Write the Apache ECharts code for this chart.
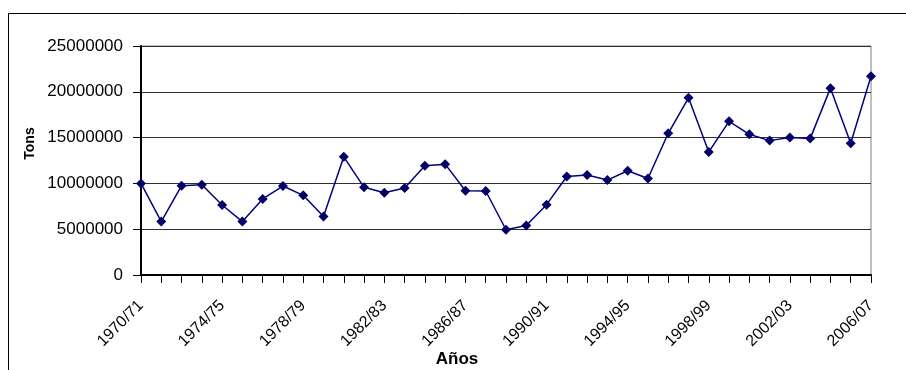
<!DOCTYPE html>
<html>
<head>
<meta charset="utf-8">
<script src="https://cdn.jsdelivr.net/npm/echarts@6/dist/echarts.min.js"></script>
<style>
html,body{margin:0;padding:0;background:#fff;}
#chart{width:906px;height:370px;}
</style>
</head>
<body>
<div id="chart"></div>
<script>
var categories = ["1970/71","1971/72","1972/73","1973/74","1974/75","1975/76","1976/77","1977/78","1978/79","1979/80",
  "1980/81","1981/82","1982/83","1983/84","1984/85","1985/86","1986/87","1987/88","1988/89","1989/90",
  "1990/91","1991/92","1992/93","1993/94","1994/95","1995/96","1996/97","1997/98","1998/99","1999/00",
  "2000/01","2001/02","2002/03","2003/04","2004/05","2005/06","2006/07"];
var tons = [10000000, 5830000, 9750000, 9860000, 7640000, 5830000, 8300000, 9710000, 8700000, 6380000,
  12900000, 9570000, 8990000, 9490000, 11920000, 12100000, 9200000, 9170000, 4940000, 5400000,
  7680000, 10760000, 10910000, 10360000, 11380000, 10540000, 15470000, 19350000, 13440000, 16780000,
  15360000, 14670000, 15000000, 14890000, 20400000, 14380000, 21700000];
var yTicks = [0, 5000000, 10000000, 15000000, 20000000, 25000000];

var chart = echarts.init(document.getElementById('chart'), null, {renderer: 'canvas'});
var font = '"Liberation Sans", Arial, sans-serif';
chart.setOption({
  animation: false,
  backgroundColor: '#fff',
  graphic: [{
    type: 'rect', silent: true,
    shape: {x: 8.5, y: 13.5, width: 1000, height: 500},
    style: {fill: 'none', stroke: '#000', lineWidth: 1}
  }],
  grid: {left: 141, right: 35, top: 46, bottom: 95, show: true, borderColor: '#808080', borderWidth: 1,
         containLabel: false, outerBoundsMode: 'none'},
  xAxis: {
    type: 'category',
    data: categories,
    boundaryGap: false,
    name: 'Años',
    nameLocation: 'middle',
    nameMoveOverlap: false,
    nameGap: 76,
    nameTextStyle: {fontFamily: font, fontSize: 17, fontWeight: 'bold', color: '#000', padding: [0, 0, 0, -98]},
    axisLine: {lineStyle: {color: '#000', width: 2}},
    axisTick: {show: true, interval: 0, length: 8, lineStyle: {color: '#000', width: 1}},
    axisLabel: {interval: 3, rotate: 45, margin: 28, fontFamily: font, fontSize: 16, color: '#000'},
    splitLine: {show: false}
  },
  yAxis: {
    type: 'value',
    min: yTicks[0],
    max: yTicks[yTicks.length - 1],
    interval: yTicks[1] - yTicks[0],
    name: 'Tons',
    nameLocation: 'middle',
    nameMoveOverlap: false,
    nameGap: 104,
    nameTextStyle: {fontFamily: font, fontSize: 14, fontWeight: 'bold', color: '#000', padding: [0, 0, 0, 34]},
    axisLine: {show: true, lineStyle: {color: '#000', width: 2}},
    axisTick: {show: true, length: 8, lineStyle: {color: '#000', width: 1}},
    axisLabel: {margin: 18, fontFamily: font, fontSize: 17, color: '#000',
                formatter: function (v) { return String(v); }},
    splitLine: {show: true, lineStyle: {color: '#303030', width: 1}}
  },
  series: [{
    type: 'line',
    data: tons,
    symbol: 'diamond',
    symbolSize: 10,
    showSymbol: true,
    lineStyle: {color: '#000080', width: 1.5},
    itemStyle: {color: '#000066'}
  }]
});
</script>
</body>
</html>
